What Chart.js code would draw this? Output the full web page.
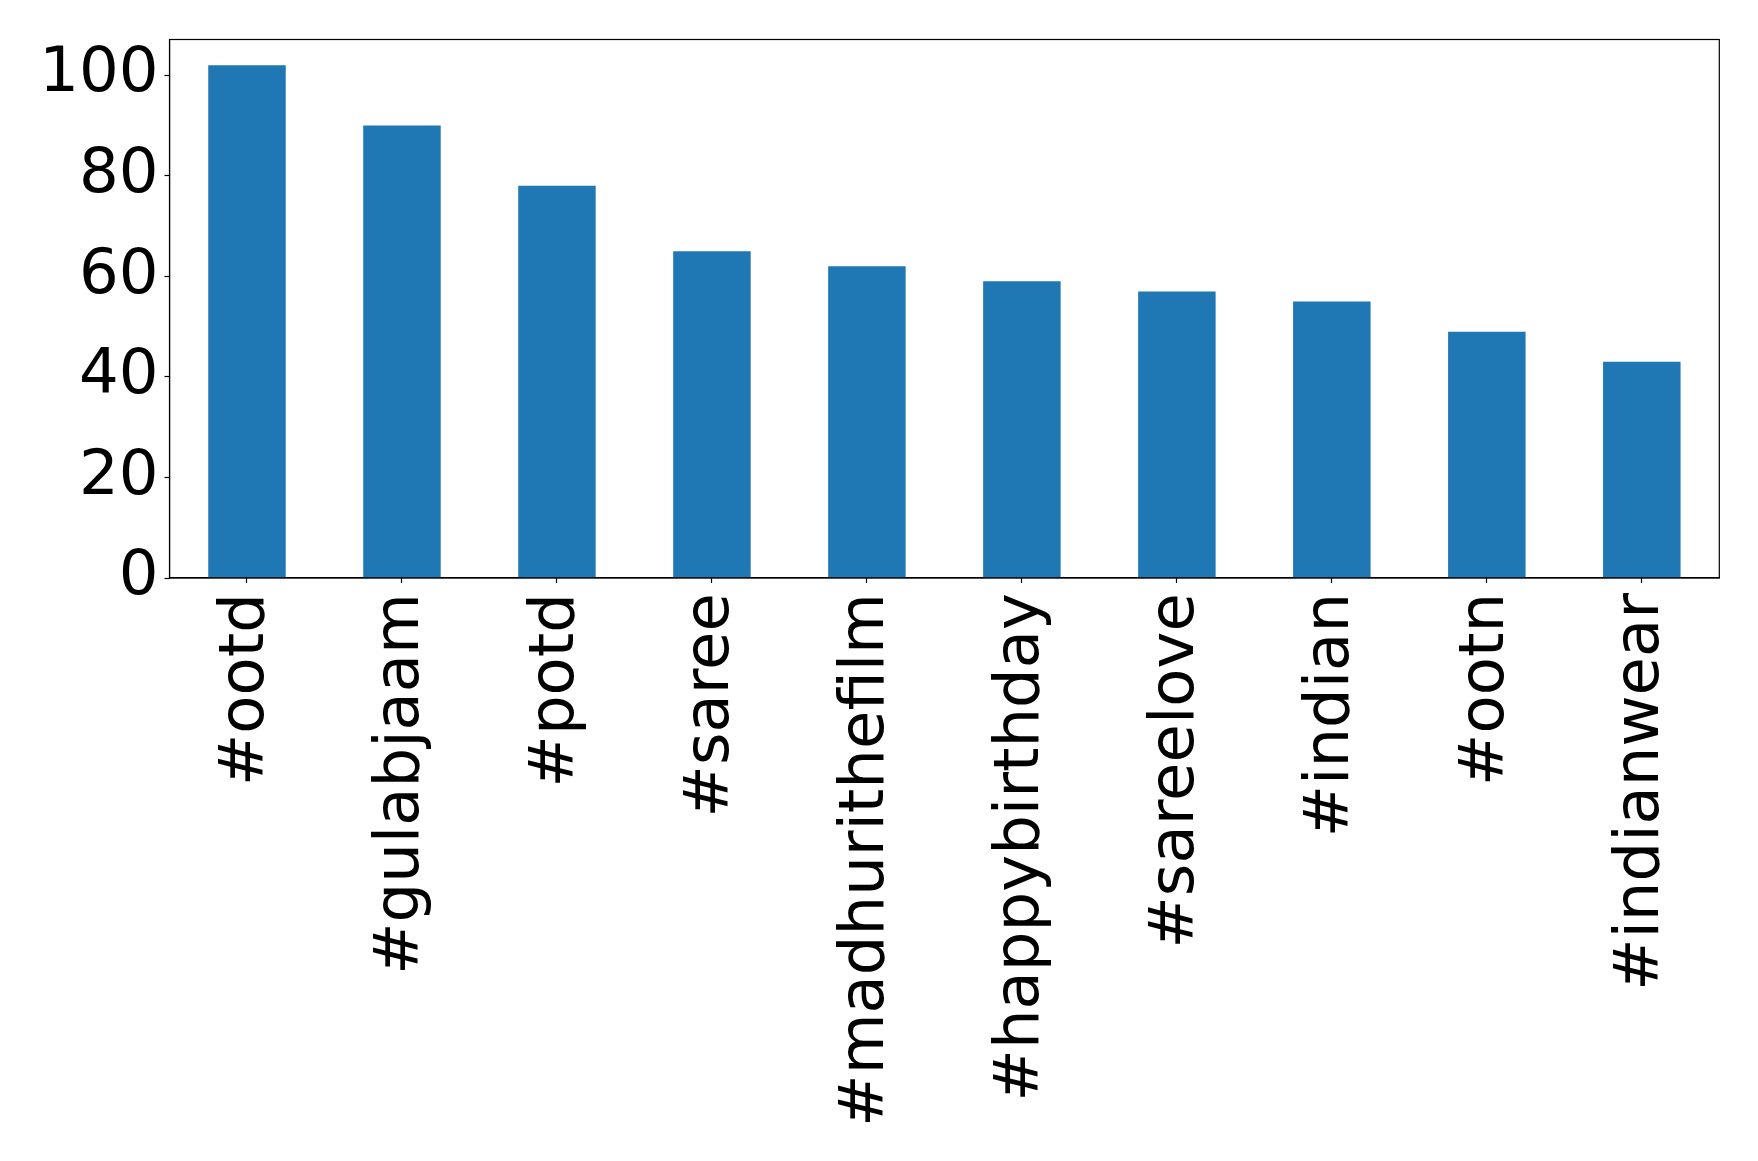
<!DOCTYPE html>
<html>
<head>
<meta charset="utf-8">
<script src="https://cdn.jsdelivr.net/npm/chart.js@4"></script>
<style>
  html, body { margin: 0; padding: 0; background: #ffffff; }
  #wrap { width: 1758px; height: 1161px; position: relative; }
</style>
</head>
<body>
<div id="wrap"><canvas id="c" width="1758" height="1161"></canvas></div>
<script>
const categories = ['#ootd', '#gulabjaam', '#potd', '#saree', '#madhurithefilm', '#happybirthday', '#sareelove', '#indian', '#ootn', '#indianwear'];
const counts = [102, 90, 78, 65, 62, 59, 57, 55, 49, 43];
const yTicks = [0, 20, 40, 60, 80, 100];

const FONT = { family: '"DejaVu Sans", sans-serif', size: 62.5 };

const frame = {
  id: 'frame',
  afterDraw(chart) {
    const a = chart.chartArea, ctx = chart.ctx;
    ctx.save();
    ctx.strokeStyle = '#000';
    ctx.lineWidth = 1.2;
    ctx.strokeRect(a.left, a.top, a.right - a.left, a.bottom - a.top);
    ctx.restore();
  }
};

new Chart(document.getElementById('c'), {
  type: 'bar',
  data: {
    labels: categories,
    datasets: [{
      data: counts,
      backgroundColor: '#1f77b4',
      borderWidth: 0,
      categoryPercentage: 1.0,
      barPercentage: 0.5
    }]
  },
  options: {
    responsive: false,
    animation: false,
    events: [],
    layout: { padding: { top: 39.5, right: 38.7, left: 0, bottom: 0 } },
    plugins: { legend: { display: false }, tooltip: { enabled: false } },
    scales: {
      x: {
        offset: true,
        grid: { display: true, drawOnChartArea: false, tickLength: 5, tickColor: '#000', tickWidth: 1.2, offset: false },
        border: { display: true, color: '#000', width: 1.2 },
        ticks: { color: '#000', font: FONT, minRotation: 90, maxRotation: 90, autoSkip: false, padding: 10 },
        afterFit(scale) { scale.height = 1161 - 578; scale.paddingLeft = 0; scale.paddingRight = 0; }
      },
      y: {
        min: 0,
        max: 107.1,
        afterBuildTicks(scale) { scale.ticks = yTicks.map(v => ({ value: v })); },
        grid: { display: true, drawOnChartArea: false, tickLength: 5, tickColor: '#000', tickWidth: 1.2 },
        border: { display: true, color: '#000', width: 1.2 },
        ticks: { color: '#000', font: FONT, padding: 6 },
        afterFit(scale) { scale.width = 169.5; scale.paddingTop = 0; scale.paddingBottom = 0; }
      }
    }
  },
  plugins: [frame]
});
</script>
</body>
</html>
